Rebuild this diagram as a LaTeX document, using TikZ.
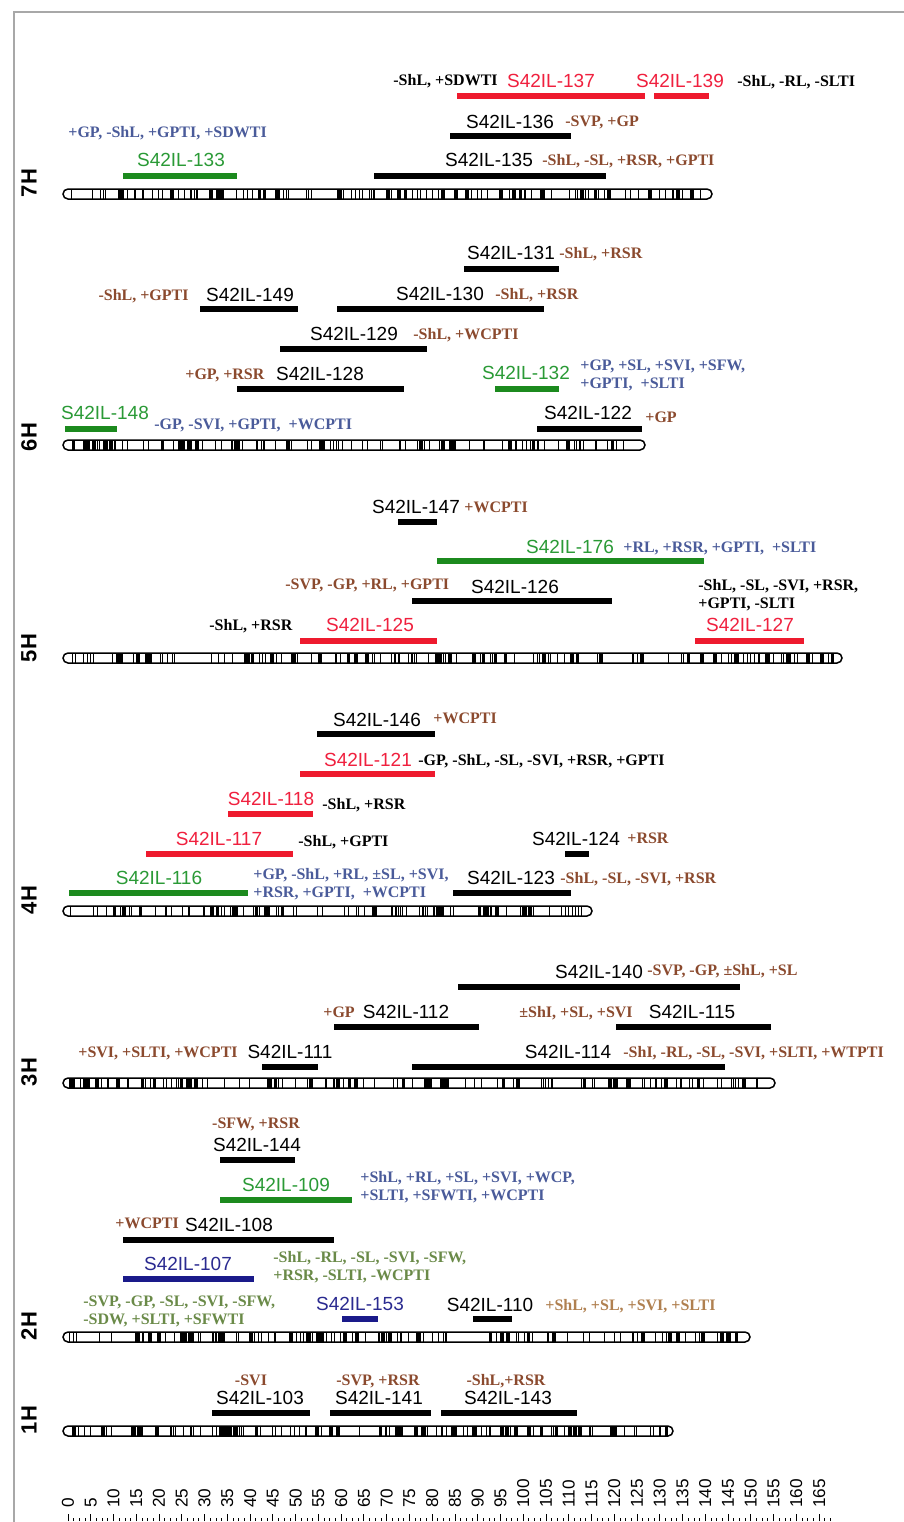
\documentclass[tikz,border=0pt]{standalone}
\usepackage{fontspec}
\setmainfont{Liberation Serif}
\newfontfamily\labsans{Liberation Sans}
\definecolor{cred}{HTML}{EE1A2E}
\definecolor{credl}{HTML}{F0203E}
\definecolor{cgreen}{HTML}{1C8A1E}
\definecolor{cgreenl}{HTML}{2A9A36}
\definecolor{cnavy}{HTML}{1A1A8A}
\definecolor{cnavyl}{HTML}{2A2A90}
\definecolor{cbrown}{HTML}{8B4A2E}
\definecolor{cslate}{HTML}{4A5B9A}
\definecolor{colive}{HTML}{6A8A48}
\definecolor{clbrown}{HTML}{B08050}
\definecolor{cframe}{HTML}{A8A8A8}
\tikzset{
  lab/.style={font=\labsans\fontsize{9.5}{10}\selectfont, inner sep=0pt, text depth=0pt},
  ann/.style={font=\bfseries\fontsize{8}{9}\selectfont, inner sep=0pt, align=left, text depth=0pt},
  chrlab/.style={font=\labsans\bfseries\fontsize{11}{12}\selectfont, rotate=90, inner sep=0pt},
  axnum/.style={font=\labsans\fontsize{8.6}{9}\selectfont, rotate=90, anchor=west, inner sep=0pt},
  bar/.style={line width=3pt},
  chr/.style={line width=0.75pt, rounded corners=2.5pt},
  tick/.style={line width=0.4pt},
}
\newcommand\segbar[5]{\draw[bar,draw=#5] (#2,#4) coordinate (#1s) -- (#3,#4) coordinate (#1e);}
\newcommand\chromo[5]{%
  \pgfmathsetseed{#5}%
  \pgfmathtruncatemacro\nb{(#3-#2)/5}%
  \foreach \i in {1,...,\nb}{%
    \pgfmathsetmacro\bx{#2+6+rnd*(#3-#2-12)}%
    \pgfmathsetmacro\bw{(rnd<0.2) ? 1.9 : 0.5}%
    \draw[line width=\bw pt] (\bx,#4-4.6) -- (\bx,#4+4.6);%
  }%
  \draw[chr] (#2,#4-5) rectangle (#3,#4+5);%
  \coordinate (#1) at (#2,#4);%
}
\begin{document}
\begin{tikzpicture}[x=0.5pt,y=-0.5pt]
\useasboundingbox[fill=white] (0,0) rectangle (904,1522);
\draw[cframe, line width=0.75pt] (14,1522) -- (14,12) -- (904,12);

% ---------------- 7H
\chromo{c7}{63}{712}{194}{71}
\node[chrlab] (h7) at (29,183) {7H};
\segbar{b137}{457}{645}{96}{cred}
\node[lab,text=credl] (l137) at (551,81) {S42IL-137};
\node[ann,anchor=west] (a137) at (393,80) {-ShL, +SDWTI};
\segbar{b139}{654}{709}{96}{cred}
\node[lab,text=credl] (l139) at (680,81) {S42IL-139};
\node[ann,anchor=west] (a139) at (737,81) {-ShL, -RL, -SLTI};
\segbar{b136}{450}{571}{136}{black}
\node[lab] (l136) at (510,122) {S42IL-136};
\node[ann,anchor=west,text=cbrown] (a136) at (565,121) {-SVP, +GP};
\segbar{b135}{374}{606}{176}{black}
\node[lab] (l135) at (489,160) {S42IL-135};
\node[ann,anchor=west,text=cbrown] (a135) at (542,160) {-ShL, -SL, +RSR, +GPTI};
\segbar{b133}{123}{237}{176}{cgreen}
\node[lab,text=cgreenl] (l133) at (181,160) {S42IL-133};
\node[ann,anchor=west,text=cslate] (a133) at (68,132) {+GP, -ShL, +GPTI, +SDWTI};

% ---------------- 6H
\chromo{c6}{63}{645}{445}{62}
\node[chrlab] (h6) at (29,437) {6H};
\segbar{b131}{464}{559}{269}{black}
\node[lab] (l131) at (511,253) {S42IL-131};
\node[ann,anchor=west,text=cbrown] (a131) at (559,253) {-ShL, +RSR};
\segbar{b149}{200}{298}{309}{black}
\node[lab] (l149) at (250,295) {S42IL-149};
\node[ann,anchor=east,text=cbrown] (a149) at (189,295) {-ShL, +GPTI};
\segbar{b130}{337}{544}{309}{black}
\node[lab] (l130) at (440,294) {S42IL-130};
\node[ann,anchor=west,text=cbrown] (a130) at (495,294) {-ShL, +RSR};
\segbar{b129}{280}{427}{349}{black}
\node[lab] (l129) at (354,334) {S42IL-129};
\node[ann,anchor=west,text=cbrown] (a129) at (413,334) {-ShL, +WCPTI};
\segbar{b128}{237}{404}{389}{black}
\node[lab] (l128) at (320,374) {S42IL-128};
\node[ann,anchor=west,text=cbrown] (a128) at (185,374) {+GP, +RSR};
\segbar{b132}{495}{559}{389}{cgreen}
\node[lab,text=cgreenl] (l132) at (526,373) {S42IL-132};
\node[ann,anchor=west,text=cslate] (a132) at (580,374) {+GP, +SL, +SVI, +SFW,\\+GPTI, \ +SLTI};
\segbar{b148}{65}{117}{429}{cgreen}
\node[lab,text=cgreenl] (l148) at (105,413) {S42IL-148};
\node[ann,anchor=west,text=cslate] (a148) at (154,424) {-GP, -SVI, +GPTI, \ +WCPTI};
\segbar{b122}{537}{642}{429}{black}
\node[lab] (l122) at (588,413) {S42IL-122};
\node[ann,anchor=west,text=cbrown] (a122) at (645,417) {+GP};

% ---------------- 5H
\chromo{c5}{63}{842}{658}{53}
\node[chrlab] (h5) at (29,648) {5H};
\segbar{b147}{398}{437}{522}{black}
\node[lab] (l147) at (416,507) {S42IL-147};
\node[ann,anchor=west,text=cbrown] (a147) at (464,507) {+WCPTI};
\segbar{b176}{437}{704}{561}{cgreen}
\node[lab,text=cgreenl] (l176) at (570,547) {S42IL-176};
\node[ann,anchor=west,text=cslate] (a176) at (623,547) {+RL, +RSR, +GPTI, \ +SLTI};
\segbar{b126}{412}{612}{601}{black}
\node[lab] (l126) at (515,587) {S42IL-126};
\node[ann,anchor=west,text=cbrown] (a126) at (285,584) {-SVP, -GP, +RL, +GPTI};
\node[ann,anchor=west] (a127) at (698,594) {-ShL, -SL, -SVI, +RSR,\\+GPTI, -SLTI};
\segbar{b125}{300}{437}{641}{cred}
\node[lab,text=credl] (l125) at (370,625) {S42IL-125};
\node[ann,anchor=west] (a125) at (209,625) {-ShL, +RSR};
\segbar{b127}{695}{804}{641}{cred}
\node[lab,text=credl] (l127) at (750,625) {S42IL-127};

% ---------------- 4H
\chromo{c4}{63}{592}{911}{44}
\node[chrlab] (h4) at (29,900) {4H};
\segbar{b146}{317}{435}{734}{black}
\node[lab] (l146) at (377,720) {S42IL-146};
\node[ann,anchor=west,text=cbrown] (a146) at (433,718) {+WCPTI};
\segbar{b121}{300}{435}{774}{cred}
\node[lab,text=credl] (l121) at (368,760) {S42IL-121};
\node[ann,anchor=west] (a121) at (418,760) {-GP, -ShL, -SL, -SVI, +RSR, +GPTI};
\segbar{b118}{228}{313}{814}{cred}
\node[lab,text=credl] (l118) at (271,799) {S42IL-118};
\node[ann,anchor=west] (a118) at (322,804) {-ShL, +RSR};
\segbar{b117}{146}{293}{854}{cred}
\node[lab,text=credl] (l117) at (219,839) {S42IL-117};
\node[ann,anchor=west] (a117) at (298,841) {-ShL, +GPTI};
\segbar{b116}{69}{248}{893}{cgreen}
\node[lab,text=cgreenl] (l116) at (159,878) {S42IL-116};
\node[ann,anchor=west,text=cslate] (a116) at (253,883) {+GP, -ShL, +RL, ±SL, +SVI,\\+RSR, +GPTI, \ +WCPTI};
\segbar{b124}{565}{589}{854}{black}
\node[lab] (l124) at (576,839) {S42IL-124};
\node[ann,anchor=west,text=cbrown] (a124) at (627,838) {+RSR};
\segbar{b123}{453}{571}{893}{black}
\node[lab] (l123) at (511,878) {S42IL-123};
\node[ann,anchor=west,text=cbrown] (a123) at (560,878) {-ShL, -SL, -SVI, +RSR};

% ---------------- 3H
\chromo{c3}{63}{775}{1083}{35}
\node[chrlab] (h3) at (29,1072) {3H};
\segbar{b140}{458}{740}{987}{black}
\node[lab] (l140) at (599,972) {S42IL-140};
\node[ann,anchor=west,text=cbrown] (a140) at (647,970) {-SVP, -GP, ±ShL, +SL};
\segbar{b112}{334}{479}{1027}{black}
\node[lab] (l112) at (406,1012) {S42IL-112};
\node[ann,anchor=west,text=cbrown] (a112) at (323,1012) {+GP};
\segbar{b115}{616}{771}{1027}{black}
\node[lab] (l115) at (692,1012) {S42IL-115};
\node[ann,anchor=west,text=cbrown] (a115) at (519,1012) {±ShI, +SL, +SVI};
\segbar{b111}{262}{318}{1067}{black}
\node[lab] (l111) at (290,1052) {S42IL-111};
\node[ann,anchor=west,text=cbrown] (a111) at (78,1052) {+SVI, +SLTI, +WCPTI};
\segbar{b114}{412}{725}{1067}{black}
\node[lab] (l114) at (568,1052) {S42IL-114};
\node[ann,anchor=west,text=cbrown] (a114) at (623,1052) {-ShI, -RL, -SL, -SVI, +SLTI, +WTPTI};

% ---------------- 2H
\chromo{c2}{63}{750}{1337}{26}
\node[chrlab] (h2) at (29,1326) {2H};
\node[ann,text=cbrown] (a144) at (256,1123) {-SFW, +RSR};
\node[lab] (l144) at (257,1145) {S42IL-144};
\segbar{b144}{220}{295}{1160}{black}
\segbar{b109}{220}{352}{1200}{cgreen}
\node[lab,text=cgreenl] (l109) at (286,1185) {S42IL-109};
\node[ann,anchor=west,text=cslate] (a109) at (360,1186) {+ShL, +RL, +SL, +SVI, +WCP,\\+SLTI, +SFWTI, +WCPTI};
\segbar{b108}{123}{334}{1240}{black}
\node[lab] (l108) at (229,1225) {S42IL-108};
\node[ann,anchor=west,text=cbrown] (a108) at (115,1223) {+WCPTI};
\segbar{b107}{123}{254}{1279}{cnavy}
\node[lab,text=cnavyl] (l107) at (188,1264) {S42IL-107};
\node[ann,anchor=west,text=colive] (a107) at (273,1266) {-ShL, -RL, -SL, -SVI, -SFW,\\+RSR, -SLTI, -WCPTI};
\segbar{b153}{342}{378}{1319}{cnavy}
\node[lab,text=cnavyl] (l153) at (360,1304) {S42IL-153};
\node[ann,anchor=west,text=colive] (a2) at (83,1310) {-SVP, -GP, -SL, -SVI, -SFW,\\-SDW, +SLTI, +SFWTI};
\segbar{b110}{473}{512}{1319}{black}
\node[lab] (l110) at (490,1305) {S42IL-110};
\node[ann,anchor=west,text=clbrown] (a110) at (545,1305) {+ShL, +SL, +SVI, +SLTI};

% ---------------- 1H
\chromo{c1}{63}{673}{1431}{17}
\node[chrlab] (h1) at (29,1420) {1H};
\segbar{b103}{212}{310}{1413}{black}
\node[lab] (l103) at (260,1398) {S42IL-103};
\node[ann,text=cbrown] (a103) at (251,1380) {-SVI};
\segbar{b141}{330}{431}{1413}{black}
\node[lab] (l141) at (379,1398) {S42IL-141};
\node[ann,text=cbrown] (a141) at (378,1380) {-SVP, +RSR};
\segbar{b143}{441}{577}{1413}{black}
\node[lab] (l143) at (508,1398) {S42IL-143};
\node[ann,text=cbrown] (a143) at (506,1380) {-ShL,+RSR};

% ---------------- axis
\foreach \v in {0,5,...,165}{
  \pgfmathsetmacro\ax{68+\v*4.552}
  \node[axnum] (n\v) at (\ax,1508) {\v};
  \draw[tick] (\ax,1521) -- (\ax,1514);
}
\foreach \v in {0,1.25,...,168}{
  \pgfmathsetmacro\ax{68+\v*4.552}
  \draw[tick] (\ax,1521) -- (\ax,1517.5);
}
\end{tikzpicture}
\end{document}
